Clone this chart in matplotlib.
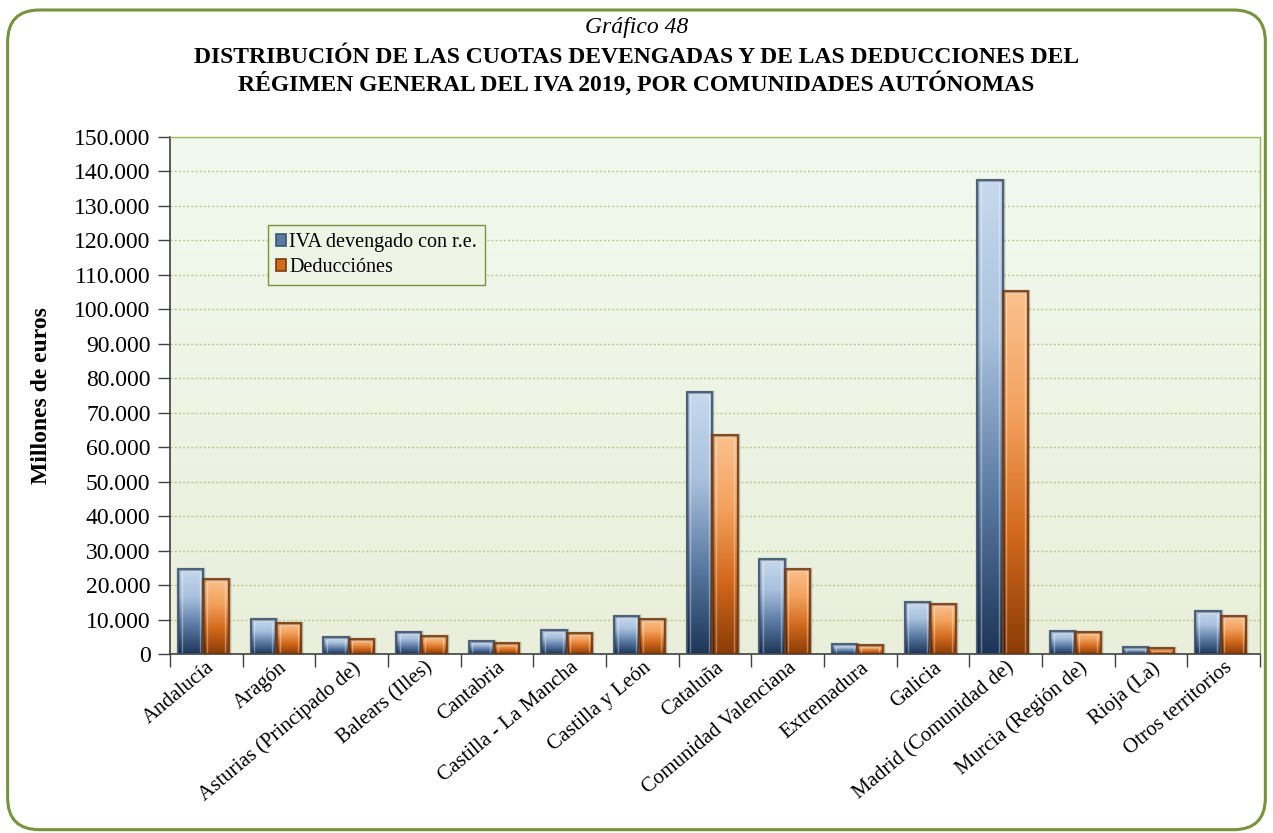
import numpy as np
import matplotlib
matplotlib.use('Agg')
import matplotlib.pyplot as plt
from matplotlib.colors import LinearSegmentedColormap
from matplotlib.patches import FancyBboxPatch
from matplotlib.ticker import FuncFormatter, MultipleLocator

regions = ['Andalucía', 'Aragón', 'Asturias (Principado de)', 'Balears (Illes)',
           'Cantabria', 'Castilla - La Mancha', 'Castilla y León', 'Cataluña',
           'Comunidad Valenciana', 'Extremadura', 'Galicia', 'Madrid (Comunidad de)',
           'Murcia (Región de)', 'Rioja (La)', 'Otros territorios']
iva_devengado = [24700, 10100, 4900, 6400, 3800, 7000, 11000, 76000,
                 27600, 2900, 15100, 137500, 6700, 2000, 12500]
deducciones = [21800, 9000, 4400, 5200, 3300, 6100, 10100, 63500,
               24700, 2600, 14500, 105300, 6400, 1600, 11000]

plt.rcParams['font.family'] = ['Liberation Serif', 'DejaVu Serif']

fig = plt.figure(figsize=(12.73, 8.33), dpi=100)
ax = fig.add_axes([0.1335, 0.2149, 0.8563, 0.6206])

# rounded frame round the whole chart
frame = FancyBboxPatch((0.006, 0.004), 0.988, 0.984, boxstyle='round,pad=0,rounding_size=0.025',
                       transform=fig.transFigure, fill=False, edgecolor='#77933c', linewidth=2.2,
                       mutation_aspect=1.53)
fig.patches.append(frame)

# plot area background gradient
bg = LinearSegmentedColormap.from_list('bg', ['#e9efda', '#f2faf0'])
ax.imshow(np.linspace(0, 1, 256).reshape(-1, 1), cmap=bg, origin='lower', aspect='auto',
          extent=[0, 1, 0, 1], transform=ax.transAxes, zorder=0)

blue_cm = LinearSegmentedColormap.from_list('b', ['#1d3557', '#5a7aa3', '#a9c1de', '#c6d9ee'])
orange_cm = LinearSegmentedColormap.from_list('o', ['#8a3c06', '#d2691c', '#f3a25e', '#fbc18e'])

x = np.arange(len(regions))
w = 0.35
off = -0.04
bars1 = ax.bar(x + off - w / 2, iva_devengado, w, facecolor='none', edgecolor='#3c5373', linewidth=1.2,
               zorder=3, label='IVA devengado con r.e.')
bars2 = ax.bar(x + off + w / 2, deducciones, w, facecolor='none', edgecolor='#7a3a0c', linewidth=1.2,
               zorder=3, label='Deducciónes')

grad = np.linspace(0, 1, 256).reshape(-1, 1)
for bars, cm in [(bars1, blue_cm), (bars2, orange_cm)]:
    for b in bars:
        x0, y0 = b.get_x(), b.get_y()
        im = ax.imshow(grad, cmap=cm, origin='lower', aspect='auto',
                       extent=[x0, x0 + b.get_width(), y0, y0 + b.get_height()], zorder=2)
        im.set_clip_path(b)
        # light bevel line inside the bar
        ax.bar(x0 + b.get_width() / 2, b.get_height() - 600, b.get_width() * 0.72, bottom=0,
               facecolor='none', edgecolor=(1, 1, 1, 0.35), linewidth=1, zorder=2.5)
        # dark sides
        ax.bar(x0 + b.get_width() / 2, b.get_height(), b.get_width(), facecolor='none',
               edgecolor=(0, 0, 0, 0.25), linewidth=2.5, zorder=2.6)

ax.set_xlim(-0.5, len(regions) - 0.5)
ax.set_ylim(0, 150000)
ax.yaxis.set_major_locator(MultipleLocator(10000))
ax.yaxis.set_major_formatter(FuncFormatter(lambda v, p: f'{int(v):,}'.replace(',', '.')))
ax.grid(axis='y', color='#b8cc8a', linestyle=(0, (1.5, 1.5)), linewidth=1, zorder=1)
ax.set_axisbelow(True)

ax.set_xticks(np.arange(len(regions) + 1) - 0.5, minor=False)
ax.set_xticklabels([])
ax.set_xticks(x, minor=True)
ax.set_xticklabels(regions, minor=True, rotation=40, ha='right', rotation_mode='anchor', fontsize=15)
ax.tick_params(axis='x', which='major', direction='out', length=9, width=1, color='#404040')
ax.tick_params(axis='x', which='minor', length=0, pad=3)
ax.tick_params(axis='y', direction='out', length=9, width=1, color='#404040', labelsize=17, pad=5)

for s in ['left', 'bottom']:
    ax.spines[s].set_color('#404040')
    ax.spines[s].set_linewidth(1.2)
for s in ['top', 'right']:
    ax.spines[s].set_color('#9bbb59')
    ax.spines[s].set_linewidth(1)

ax.set_ylabel('Millones de euros', fontsize=17, fontweight='bold', labelpad=16)

leg = ax.legend(loc='upper left', bbox_to_anchor=(0.09, 0.83), borderaxespad=0, fontsize=14.5,
                frameon=True, fancybox=False, edgecolor='#77933c', facecolor='#eef5e4', framealpha=1,
                handlelength=0.5, handleheight=0.5, handletextpad=0.15, borderpad=0.4,
                labelspacing=0.3)
leg.legend_handles[0].set_facecolor('#5a7aa3')
leg.legend_handles[1].set_facecolor('#d2691c')
leg.get_frame().set_linewidth(1)
leg.set_zorder(5)

fig.text(0.5, 0.967, 'Gráfico 48', ha='center', va='center', fontsize=17, style='italic')
fig.text(0.5, 0.914, 'DISTRIBUCIÓN DE LAS CUOTAS DEVENGADAS Y DE LAS DEDUCCIONES DEL\n'
         'RÉGIMEN GENERAL DEL IVA 2019, POR COMUNIDADES AUTÓNOMAS',
         ha='center', va='center', fontsize=17, fontweight='bold', linespacing=1.15)

fig.savefig('out.png', dpi=100)
